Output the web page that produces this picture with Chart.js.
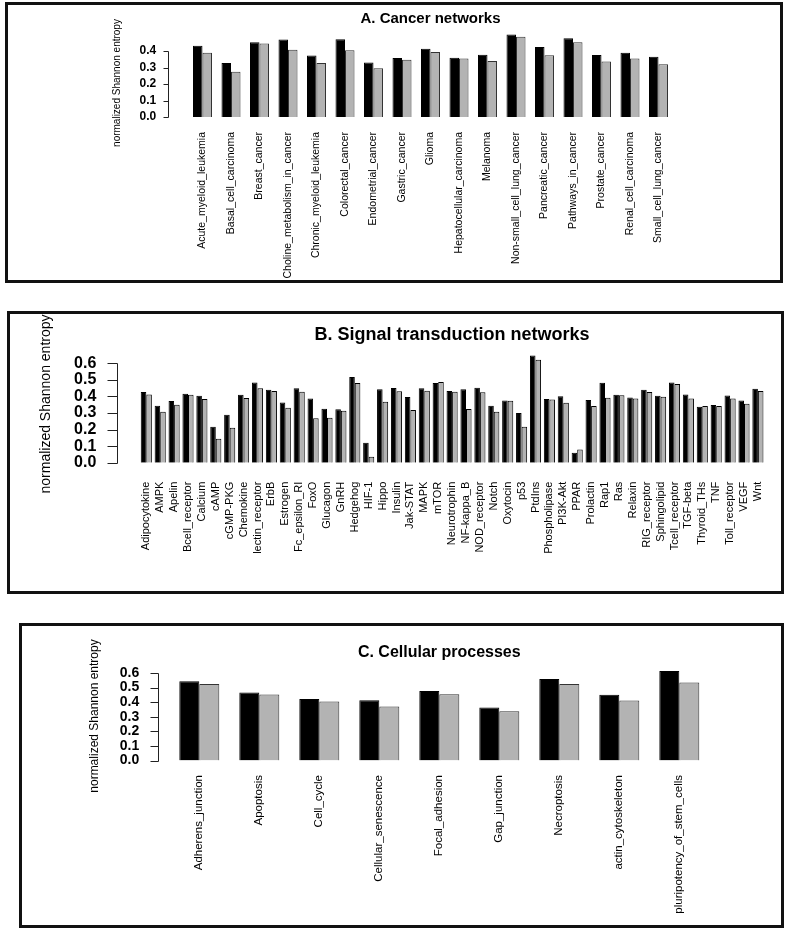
<!DOCTYPE html>
<html>
<head>
<meta charset="utf-8">
<title>Normalized Shannon entropy</title>
<script src="https://cdn.jsdelivr.net/npm/chart.js@4.4.1/dist/chart.umd.min.js"></script>
<style>
    html, body { margin: 0; padding: 0; background: #fff; }
    body { width: 793px; height: 931px; position: relative; overflow: hidden; }
    canvas { position: absolute; left: 0; }
    .box { position: absolute; border: 3px solid #111; box-sizing: border-box; pointer-events: none; }
</style>
</head>
<body>
<canvas id="chartA" width="793" height="300" style="top:0"></canvas>
<canvas id="chartB" width="793" height="310" style="top:300px"></canvas>
<canvas id="chartC" width="793" height="321" style="top:610px"></canvas>
<div class="box" style="left:5px;top:2px;width:778px;height:281px"></div>
<div class="box" style="left:7px;top:311px;width:777px;height:283px"></div>
<div class="box" style="left:19px;top:623px;width:765px;height:305px"></div>

<script>
// A. Cancer networks
const cancerNames = ['Acute_myeloid_leukemia', 'Basal_cell_carcinoma', 'Breast_cancer',
    'Choline_metabolism_in_cancer', 'Chronic_myeloid_leukemia', 'Colorectal_cancer',
    'Endometrial_cancer', 'Gastric_cancer', 'Glioma', 'Hepatocellular_carcinoma', 'Melanoma',
    'Non-small_cell_lung_cancer', 'Pancreatic_cancer', 'Pathways_in_cancer', 'Prostate_cancer',
    'Renal_cell_carcinoma', 'Small_cell_lung_cancer'];
const cancerBlack = [0.432, 0.327, 0.453, 0.469, 0.372, 0.471, 0.331, 0.357, 0.414, 0.359, 0.378,
    0.500, 0.424, 0.477, 0.376, 0.390, 0.365];
const cancerGrey = [0.390, 0.274, 0.445, 0.408, 0.327, 0.404, 0.296, 0.347, 0.394, 0.355, 0.339,
    0.487, 0.374, 0.453, 0.337, 0.355, 0.319];
const cancerTicks = [0, 0.1, 0.2, 0.3, 0.4];

// B. Signal transduction networks
const signalNames = ['Adipocytokine', 'AMPK', 'Apelin', 'Bcell_receptor', 'Calcium', 'cAMP',
    'cGMP-PKG', 'Chemokine', 'lectin_receptor', 'ErbB', 'Estrogen', 'Fc_epsilon_RI', 'FoxO',
    'Glucagon', 'GnRH', 'Hedgehog', 'HIF-1', 'Hippo', 'Insulin', 'Jak-STAT', 'MAPK', 'mTOR',
    'Neurotrophin', 'NF-kappa_B', 'NOD_receptor', 'Notch', 'Oxytocin', 'p53', 'PtdIns',
    'Phospholipase', 'PI3K-Akt', 'PPAR', 'Prolactin', 'Rap1', 'Ras', 'Relaxin', 'RIG_receptor',
    'Sphingolipid', 'Tcell_receptor', 'TGF-beta', 'Thyroid_THs', 'TNF', 'Toll_receptor', 'VEGF', 'Wnt'];
const signalBlack = [0.427, 0.344, 0.372, 0.417, 0.404, 0.217, 0.290, 0.410, 0.485, 0.441, 0.364,
    0.449, 0.388, 0.326, 0.322, 0.517, 0.121, 0.443, 0.451, 0.396, 0.449, 0.481, 0.433, 0.443,
    0.453, 0.344, 0.376, 0.300, 0.648, 0.384, 0.402, 0.060, 0.378, 0.483, 0.410, 0.394, 0.441,
    0.404, 0.485, 0.412, 0.338, 0.348, 0.406, 0.376, 0.447];
const signalGrey = [0.412, 0.308, 0.350, 0.410, 0.384, 0.145, 0.211, 0.390, 0.449, 0.433, 0.332,
    0.428, 0.268, 0.272, 0.314, 0.481, 0.036, 0.368, 0.431, 0.318, 0.435, 0.487, 0.429, 0.324,
    0.425, 0.308, 0.374, 0.217, 0.622, 0.382, 0.362, 0.080, 0.342, 0.392, 0.408, 0.388, 0.427,
    0.398, 0.475, 0.388, 0.342, 0.342, 0.388, 0.356, 0.433];
const signalTicks = [0, 0.1, 0.2, 0.3, 0.4, 0.5, 0.6];

// C. Cellular processes
const cellNames = ['Adherens_junction', 'Apoptosis', 'Cell_cycle', 'Cellular_senescence',
    'Focal_adhesion', 'Gap_junction', 'Necroptosis', 'actin_cytoskeleton', 'pluripotency_of_stem_cells'];
const cellBlack = [0.543, 0.466, 0.422, 0.413, 0.477, 0.363, 0.559, 0.450, 0.614];
const cellGrey = [0.525, 0.452, 0.404, 0.370, 0.454, 0.338, 0.525, 0.411, 0.534];
const cellTicks = [0, 0.1, 0.2, 0.3, 0.4, 0.5, 0.6];

const FONT = "'Liberation Sans', Arial, Helvetica, sans-serif";
Chart.defaults.font.family = FONT;
Chart.defaults.color = '#000';

/**
 * R-like extras: detached y axis line with outward ticks, panel title, y label
 */
const rStyle = {
    id: 'rStyle',
    afterDraw(chart, args, opts) {
        const ctx = chart.ctx;
        const area = chart.chartArea;
        const y = chart.scales.y;
        const x0 = Math.round(area.left - opts.axisGap) + 0.5;
        const ys = y.ticks.map(t => Math.round(y.getPixelForValue(t.value)) + 0.5);

        ctx.save();
        ctx.strokeStyle = '#222';
        ctx.lineWidth = 1;
        ctx.beginPath();
        ctx.moveTo(x0, Math.min(...ys));
        ctx.lineTo(x0, Math.max(...ys));
        ys.forEach(py => {
            ctx.moveTo(x0, py);
            ctx.lineTo(x0 - opts.tickLen, py);
        });
        ctx.stroke();

        ctx.fillStyle = '#000';
        ctx.textAlign = 'center';
        ctx.textBaseline = 'middle';
        ctx.font = opts.titleFont;
        ctx.fillText(opts.title, (area.left + area.right) / 2, opts.titleY);

        ctx.font = opts.ylabFont;
        ctx.translate(opts.ylabX, opts.ylabY);
        ctx.rotate(-Math.PI / 2);
        ctx.fillText('normalized Shannon entropy', 0, 0);
        ctx.restore();
    }
};

/**
 * Build one grouped bar panel
 * @param {string} id - canvas id
 * @param {object} p - layout settings for the panel
 */
function makePanel(id, labels, black, grey, ticks, p) {
    const canvas = document.getElementById(id);
    const yWidth = 110;
    return new Chart(canvas, {
        type: 'bar',
        data: {
            labels: labels,
            datasets: [
                { label: 'black', data: black, backgroundColor: '#000', borderColor: '#000', borderWidth: 1 },
                { label: 'grey', data: grey, backgroundColor: '#b3b3b3', borderColor: p.greyBorder, borderWidth: 1 }
            ]
        },
        options: {
            responsive: false,
            animation: false,
            events: [],
            layout: {
                padding: {
                    left: p.left - yWidth,
                    right: canvas.width - p.right,
                    top: p.top,
                    bottom: 0
                }
            },
            datasets: { bar: { barPercentage: 1, categoryPercentage: p.catPct } },
            plugins: {
                legend: { display: false },
                tooltip: { enabled: false },
                rStyle: p.extras
            },
            scales: {
                x: {
                    grid: { display: false, drawTicks: true, tickLength: p.xGap },
                    border: { display: false },
                    ticks: {
                        autoSkip: false, minRotation: 90, maxRotation: 90, padding: 0,
                        font: { size: p.xFont }
                    },
                    afterFit(scale) { scale.height = canvas.height - p.bottom; }
                },
                y: {
                    min: 0,
                    max: p.yMax,
                    grid: { display: false, drawTicks: true, tickLength: p.yGap },
                    border: { display: false },
                    ticks: {
                        autoSkip: false,
                        padding: 0,
                        font: { size: p.yFont, weight: 'bold' },
                        callback: v => v.toFixed(1)
                    },
                    afterBuildTicks(scale) { scale.ticks = ticks.map(v => ({ value: v })); },
                    afterFit(scale) { scale.width = yWidth; }
                }
            }
        },
        plugins: [rStyle]
    });
}

document.addEventListener('DOMContentLoaded', function() {
    makePanel('chartA', cancerNames, cancerBlack, cancerGrey, cancerTicks, {
        left: 188.25, right: 672.75, top: 31.2, bottom: 117,
        catPct: 2 / 3, greyBorder: '#333', yMax: 0.52,
        xGap: 15, xFont: 10.5,
        yGap: 32, yFont: 12,
        extras: { axisGap: 20, tickLen: 5, title: 'A. Cancer networks', titleFont: 'bold 15px ' + FONT,
            titleY: 19, ylabFont: '10px ' + FONT, ylabX: 117, ylabY: 83 }
    });

    makePanel('chartB', signalNames, signalBlack, signalGrey, signalTicks, {
        left: 139.35, right: 764.85, top: 53.4, bottom: 162.7,
        catPct: 0.8, greyBorder: '#000', yMax: 0.66,
        xGap: 19, xFont: 11,
        yGap: 43, yFont: 16,
        extras: { axisGap: 22, tickLen: 10, title: 'B. Signal transduction networks', titleFont: 'bold 18px ' + FONT,
            titleY: 35, ylabFont: '14px ' + FONT, ylabX: 46, ylabY: 104 }
    });

    makePanel('chartC', cellNames, cellBlack, cellGrey, cellTicks, {
        left: 169.3, right: 709.3, top: 57.1, bottom: 150.5,
        catPct: 2 / 3, greyBorder: '#333', yMax: 0.64,
        xGap: 14.5, xFont: 11.5,
        yGap: 30, yFont: 14,
        extras: { axisGap: 11, tickLen: 8, title: 'C. Cellular processes', titleFont: 'bold 16px ' + FONT,
            titleY: 43, ylabFont: '12px ' + FONT, ylabX: 95, ylabY: 106 }
    });
});
</script>
</body>
</html>
